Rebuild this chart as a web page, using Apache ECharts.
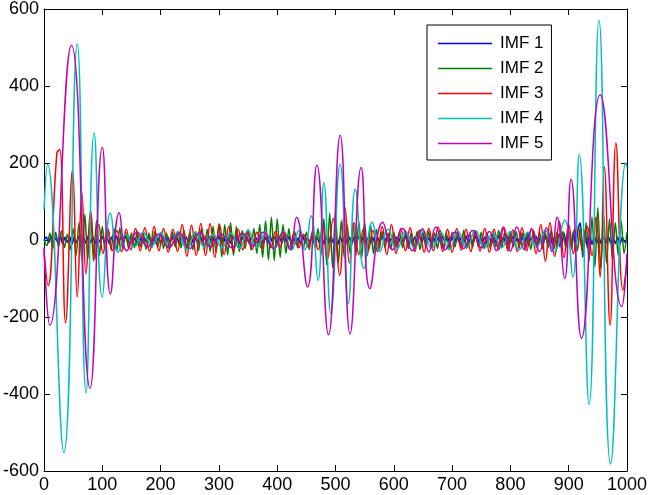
<!DOCTYPE html>
<html>
<head>
<meta charset="utf-8">
<script src="https://cdn.jsdelivr.net/npm/echarts@6/dist/echarts.min.js"></script>
<style>
  html, body { margin: 0; padding: 0; background: #fff; }
  #chart { width: 650px; height: 495px; }
</style>
</head>
<body>
<div id="chart"></div>
<script>
// tick labels
var xTicks = [0, 100, 200, 300, 400, 500, 600, 700, 800, 900, 1000];
var yTicks = [-600, -400, -200, 0, 200, 400, 600];
var names = ['IMF 1', 'IMF 2', 'IMF 3', 'IMF 4', 'IMF 5'];

// IMF 1 : sampled every 4 samples
var imf1Step = 4;
var imf1 = [
  0,8,-7,10,-9,6,-8,12,-10,7,-6,9,-11,8,-7,10,-8,6,-9,11,-7,8,-10,7,-6,
  9,-8,6,-10,8,-7,11,-9,7,-6,10,-8,9,-7,6,-11,8,-9,7,-6,10,-8,7,-9,6,
  -8,9,-7,10,-6,8,-9,7,-11,9,-6,8,-7,10,-8,6,-9,11,-7,8,-6,9,-10,7,-8,
  10,-7,8,-9,6,-8,11,-7,9,-10,7,-6,8,-9,10,-7,6,-8,9,-11,7,-8,10,-6,8,
  -9,7,-8,10,-6,9,-7,8,-10,6,-9,11,-8,7,-6,10,-9,8,-7,12,-10,8,-9,11,-7,
  9,-12,10,-8,11,-9,7,-10,8,-6,9,-7,10,-8,6,-9,7,-11,8,-6,10,-7,9,-8,6,
  -9,8,-7,10,-6,9,-8,7,-10,8,-6,11,-7,9,-8,6,-10,7,-9,8,-6,10,-7,9,-8,
  7,-9,10,-6,8,-7,11,-9,6,-8,10,-7,9,-6,8,-10,7,-9,6,-8,11,-7,8,-9,10,
  -7,9,-8,6,-10,8,-7,11,-9,7,-6,10,-8,9,-12,10,-9,14,-11,9,-13,16,-12,18,-15,
  15,-18,22,-20,30,45,-45,25,-20,15,-12,10,-9,8,-11,9,-7,10,-8,6,-9,7,-10,8,-6,0
];

// IMF 2 : sampled every 5 samples
var imf2Step = 5;
var imf2 = [
  0,-15,18,-22,20,-18,25,-20,15,-25,30,-40,45,-55,67,-50,63,-55,50,-40,
  35,-30,28,-25,30,-28,32,-25,20,-22,18,-20,22,-18,20,-24,18,-20,22,-18,
  20,-22,18,-25,20,-18,22,-20,25,-22,20,-25,22,-28,30,-25,28,-30,35,-32,
  42,-44,40,-38,45,-40,35,-30,25,-22,28,-25,30,-35,40,-45,50,-52,59,-53,
  55,-45,40,-35,30,-25,22,-20,25,-22,20,-25,22,-20,30,-40,55,-65,70,-72,
  74,-60,50,-45,40,-35,45,-40,48,-45,46,-40,40,-35,28,-25,22,-20,18,-22,
  20,-18,22,-20,18,-22,20,-18,22,-25,20,-18,22,-20,18,-22,25,-20,18,-22,
  20,-18,22,-20,25,-22,18,-20,22,-18,20,-22,18,-20,22,-18,25,-20,18,-22,
  20,-18,22,-20,18,-22,20,-25,22,-18,20,-22,18,-20,25,-22,20,-18,22,-20,
  25,-22,30,-28,35,-40,45,-55,60,-70,84,-75,65,-60,55,-50,45,-40,50,-35,20
];

// IMF 3 : [sample, value] at the turning points
var imf3 = [
  [0,-30],[7,-118],[22,225],[27,235],[37,-215],[49,183],[57,-148],[65,123],[72,-88],[80,76],
  [87,-50],[94,40],[101,-35],[109,30],[117,-28],[125,25],[133,-30],[141,28],[149,-25],[157,30],
  [165,-28],[173,32],[181,-30],[189,35],[197,-28],[205,30],[213,-32],[221,28],[229,-30],[237,40],
  [245,-42],[253,38],[261,-40],[269,43],[277,-40],[285,42],[293,-45],[301,40],[309,-38],[317,35],
  [325,-30],[333,28],[341,-25],[349,22],[357,-25],[365,20],[373,-22],[381,18],[389,-20],[397,22],
  [405,-18],[413,20],[421,-22],[429,18],[437,-20],[445,15],[453,-18],[462,20],[470,-25],[478,35],
  [486,-50],[496,55],[507,-92],[516,86],[524,-60],[532,45],[540,-38],[548,30],[556,-28],[564,25],
  [572,-30],[580,35],[588,-38],[596,40],[604,-35],[612,30],[620,-28],[628,32],[636,-30],[644,26],
  [652,-32],[660,30],[668,-28],[676,34],[684,-30],[692,28],[700,-32],[708,30],[716,-26],[724,28],
  [732,-30],[740,25],[748,-28],[756,30],[764,-32],[772,28],[780,-25],[788,30],[796,-28],[804,26],
  [812,-30],[820,32],[828,-28],[836,30],[844,-35],[852,40],[860,-55],[868,45],[876,-42],[884,48],
  [892,-45],[900,40],[908,-35],[916,30],[924,-28],[932,35],[940,-40],[947,60],[954,-96],[961,190],
  [971,-221],[981,252],[993,-130],[1000,-60]
];

// IMF 4 : [sample, value] at the turning points
var imf4 = [
  [0,80],[6,196],[34,-552],[57,510],[72,-397],[86,278],[100,-148],[114,70],[127,-32],[140,15],
  [155,-18],[170,20],[185,-15],[200,18],[215,-20],[230,22],[245,-25],[260,20],[275,-18],[290,15],
  [305,-20],[320,18],[335,-22],[350,25],[365,-20],[380,18],[395,-22],[410,20],[425,-25],[437,25],
  [447,-25],[458,63],[470,-105],[480,149],[492,-190],[508,197],[522,-165],[534,132],[549,-74],[563,46],
  [576,-30],[590,28],[605,-25],[620,22],[635,-20],[650,25],[665,-22],[680,20],[695,-25],[710,22],
  [725,-20],[740,25],[755,-22],[770,18],[785,-20],[800,22],[815,-25],[830,20],[845,-18],[860,25],
  [875,-30],[893,52],[907,-96],[918,222],[935,-427],[952,571],[972,-582],[998,200],[1000,190]
];

// IMF 5 : [sample, value] at the turning points
var imf5 = [
  [0,-20],[10,-221],[47,506],[79,-385],[100,240],[114,-140],[129,71],[142,-28],[160,20],[178,-18],
  [196,15],[214,-20],[232,18],[250,-22],[268,20],[286,-18],[304,15],[322,-20],[340,18],[358,-15],
  [376,20],[394,-22],[410,20],[422,-25],[433,59],[452,-122],[468,194],[488,-246],[508,272],[525,-244],
  [544,188],[559,-126],[581,46],[598,-25],[615,30],[632,-28],[649,29],[660,-31],[672,34],[688,-25],
  [705,20],[720,-22],[735,25],[750,-20],[764,22],[776,-28],[788,34],[800,-29],[811,34],[824,-25],
  [837,28],[850,-30],[862,32],[871,-30],[880,59],[893,-100],[904,158],[922,-255],[954,377],[991,-173],
  [1000,-35]
];

var colors = ['#0000ff', '#008000', '#ff0000', '#00bfbf', '#bf00bf'];
var font = 'Liberation Sans, Arial, Helvetica, sans-serif';

function stepped(arr, step) {
  return arr.map(function (v, i) { return [i * step, v]; });
}

var seriesData = [stepped(imf1, imf1Step), stepped(imf2, imf2Step), imf3, imf4, imf5];
var smoothness = [0.2, 0.3, 0.45, 0.5, 0.5];

var chart = echarts.init(document.getElementById('chart'));

var axisLine = { show: true, onZero: false, lineStyle: { color: '#000', width: 1 } };
var tick = { show: true, inside: true, length: 6, lineStyle: { color: '#000', width: 1 } };
var plainNumber = function (v) { return String(v); };

var option = {
  animation: false,
  backgroundColor: '#fff',
  grid: { left: 41, right: 20, top: 7, bottom: 24, containLabel: false },
  legend: {
    orient: 'vertical',
    left: 427,
    top: 25,
    data: names,
    icon: 'rect',
    backgroundColor: '#fff',
    borderColor: '#000',
    borderWidth: 1,
    borderRadius: 0,
    padding: [10, 8, 8, 11],
    itemWidth: 54,
    itemHeight: 1.5,
    itemGap: 8,
    textStyle: { fontFamily: font, fontSize: 17, lineHeight: 14, color: '#000', padding: [0, 0, 0, 3] }
  },
  xAxis: [
    {
      type: 'value', min: xTicks[0], max: xTicks[xTicks.length - 1], interval: 100,
      position: 'bottom',
      axisLine: axisLine, axisTick: tick, splitLine: { show: false },
      axisLabel: { fontFamily: font, fontSize: 18, color: '#000', margin: 5, formatter: plainNumber }
    },
    {
      type: 'value', min: xTicks[0], max: xTicks[xTicks.length - 1], interval: 100,
      position: 'top',
      axisLine: axisLine, axisTick: tick, splitLine: { show: false },
      axisLabel: { show: false }
    }
  ],
  yAxis: [
    {
      type: 'value', min: yTicks[0], max: yTicks[yTicks.length - 1], interval: 200,
      position: 'left',
      axisLine: axisLine, axisTick: tick, splitLine: { show: false },
      axisLabel: { fontFamily: font, fontSize: 18, color: '#000', margin: 5, formatter: plainNumber }
    },
    {
      type: 'value', min: yTicks[0], max: yTicks[yTicks.length - 1], interval: 200,
      position: 'right',
      axisLine: axisLine, axisTick: tick, splitLine: { show: false },
      axisLabel: { show: false }
    }
  ],
  series: names.map(function (name, i) {
    return {
      name: name,
      type: 'line',
      xAxisIndex: 0,
      yAxisIndex: 0,
      data: seriesData[i],
      symbol: 'none',
      smooth: smoothness[i],
      color: colors[i],
      lineStyle: { color: colors[i], width: 1.5 }
    };
  })
};

chart.setOption(option);
</script>
</body>
</html>
